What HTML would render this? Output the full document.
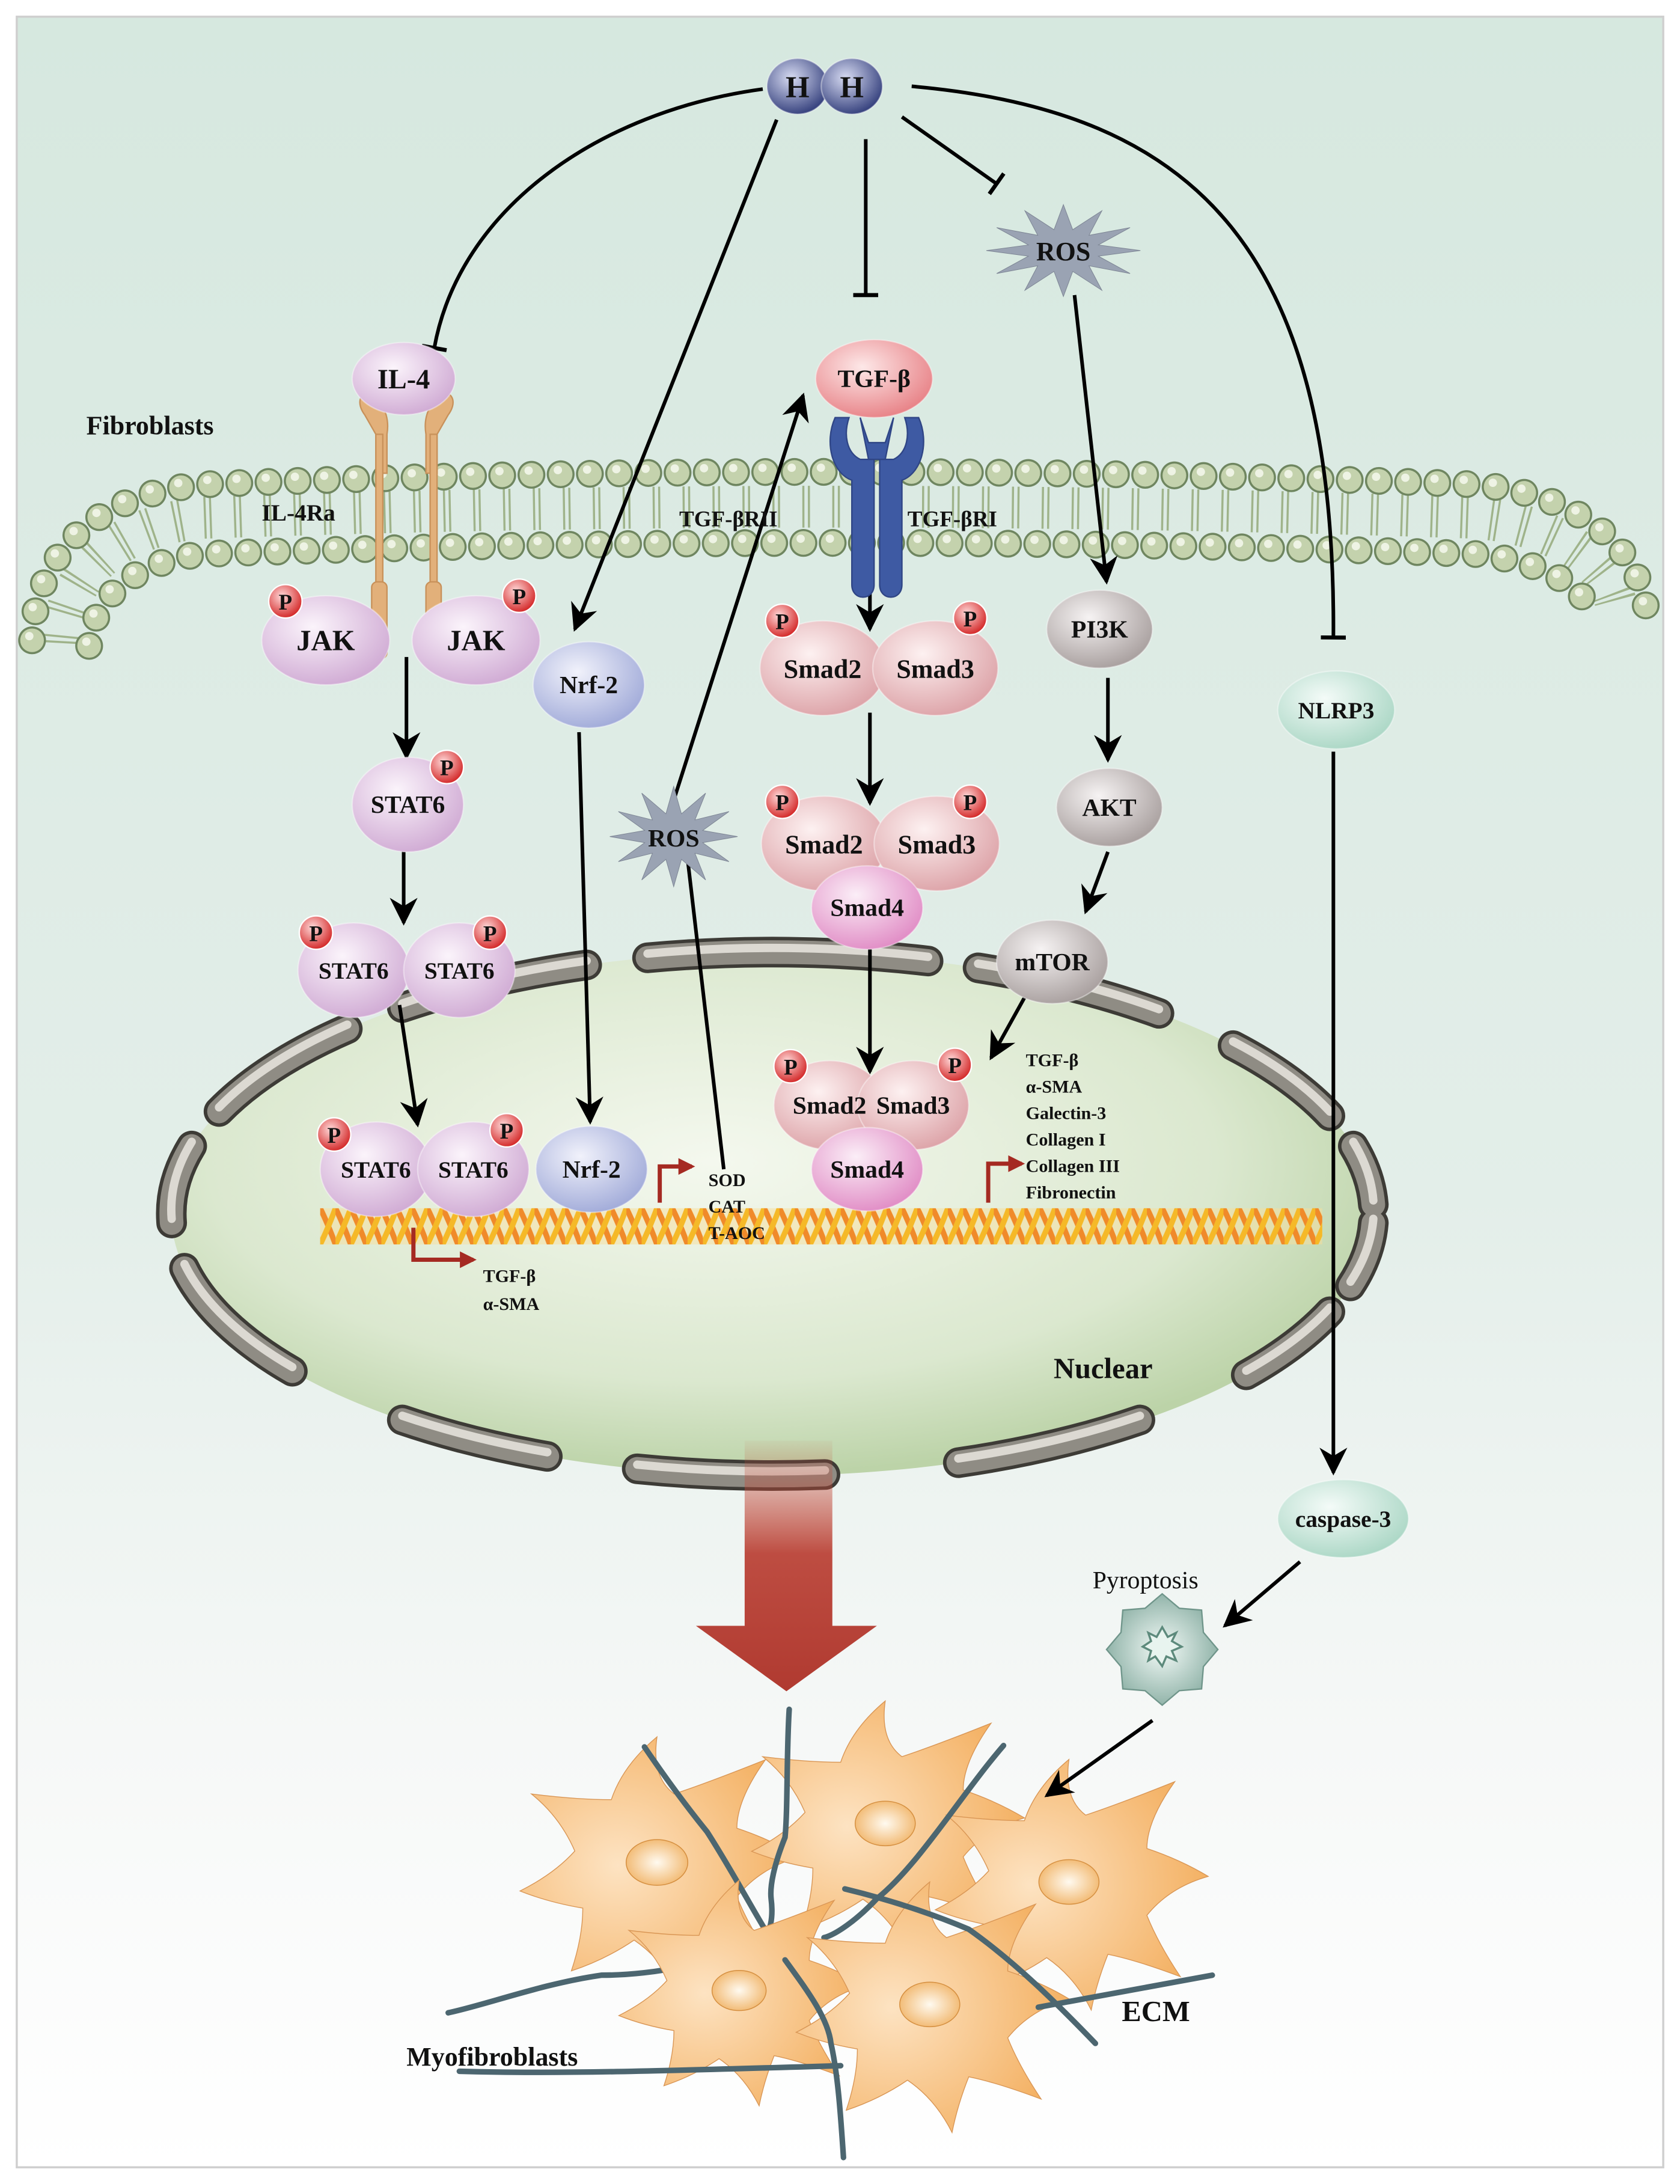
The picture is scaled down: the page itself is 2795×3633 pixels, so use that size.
<!DOCTYPE html>
<html><head><meta charset="utf-8">
<style>
html,body{margin:0;padding:0;background:#fff;}
svg{display:block;}
text{font-family:"Liberation Serif",serif;font-weight:bold;fill:#111;}
.c{text-anchor:middle;}
</style></head>
<body>
<svg width="2795" height="3633" viewBox="0 0 1207 1569" xmlns="http://www.w3.org/2000/svg" xmlns:xlink="http://www.w3.org/1999/xlink">
<defs>
<linearGradient id="bg" x1="0" y1="0" x2="0" y2="1">
<stop offset="0" stop-color="#d6e8df"/><stop offset="0.55" stop-color="#e3eee9"/><stop offset="0.8" stop-color="#f6f8f7"/><stop offset="1" stop-color="#fff"/>
</linearGradient>
<radialGradient id="nuc" cx="0.45" cy="0.4" r="0.6"><stop offset="0" stop-color="#f4f8ee"/><stop offset="0.7" stop-color="#dbe8cf"/><stop offset="1" stop-color="#bcd3a8"/></radialGradient>
<radialGradient id="pur" cx="0.4" cy="0.35" r="0.7"><stop offset="0" stop-color="#fbf4fb"/><stop offset="1" stop-color="#cfa9d3"/></radialGradient>
<radialGradient id="pink" cx="0.4" cy="0.35" r="0.7"><stop offset="0" stop-color="#fdf1f1"/><stop offset="1" stop-color="#dca1a6"/></radialGradient>
<radialGradient id="mag" cx="0.4" cy="0.35" r="0.7"><stop offset="0" stop-color="#fbeef7"/><stop offset="1" stop-color="#e08ac4"/></radialGradient>
<radialGradient id="tgf" cx="0.4" cy="0.35" r="0.7"><stop offset="0" stop-color="#fde8e8"/><stop offset="1" stop-color="#e77f84"/></radialGradient>
<radialGradient id="blue" cx="0.4" cy="0.35" r="0.7"><stop offset="0" stop-color="#f1f2fb"/><stop offset="1" stop-color="#9fa9d8"/></radialGradient>
<radialGradient id="gray" cx="0.4" cy="0.35" r="0.7"><stop offset="0" stop-color="#f6f3f3"/><stop offset="1" stop-color="#a69d9c"/></radialGradient>
<radialGradient id="mint" cx="0.4" cy="0.35" r="0.7"><stop offset="0" stop-color="#f4fbf8"/><stop offset="1" stop-color="#a9d6c4"/></radialGradient>
<radialGradient id="hh" cx="0.4" cy="0.35" r="0.7"><stop offset="0" stop-color="#d7dbf2"/><stop offset="1" stop-color="#2e3a78"/></radialGradient>
<radialGradient id="pp" cx="0.4" cy="0.35" r="0.7"><stop offset="0" stop-color="#ffd9d9"/><stop offset="1" stop-color="#d11e1e"/></radialGradient>
<radialGradient id="cell" cx="0.35" cy="0.5" r="0.7"><stop offset="0" stop-color="#fde3c2"/><stop offset="1" stop-color="#f3ad5c"/></radialGradient>
<radialGradient id="cn" cx="0.5" cy="0.5" r="0.6"><stop offset="0" stop-color="#fffaf0"/><stop offset="1" stop-color="#f0b060"/></radialGradient>
<radialGradient id="pyro" cx="0.5" cy="0.5" r="0.6"><stop offset="0" stop-color="#f3faf7"/><stop offset="1" stop-color="#7ea69a"/></radialGradient>
<linearGradient id="red" x1="0" y1="0" x2="0" y2="1"><stop offset="0" stop-color="#c8503c" stop-opacity="0.05"/><stop offset="0.45" stop-color="#b83a2e" stop-opacity="0.9"/><stop offset="1" stop-color="#b03a30"/></linearGradient>
<pattern id="dnap" x="230" y="868" width="11" height="26" patternUnits="userSpaceOnUse">
<path d="M0,0 C4,8 8,18 11,26" stroke="#f08a2a" stroke-width="4" fill="none"/>
<path d="M0,26 C4,18 8,8 11,0" stroke="#f5b928" stroke-width="4" fill="none"/>
</pattern>
<polygon id="star" points="0,-1 .164,-.454 .675,-.866 .449,-.332 1.169,-.5 .613,-.122 1.35,0 .613,.122 1.169,.5 .449,.332 .675,.866 .164,.454 0,1 -.164,.454 -.675,.866 -.449,.332 -1.169,.5 -.613,.122 -1.35,0 -.613,-.122 -1.169,-.5 -.449,-.332 -.675,-.866 -.164,-.454" fill="#9aa3b3" stroke="#7d8594" stroke-width="1" vector-effect="non-scaling-stroke"/>
<g id="cellg">
<path d="M-40,-55 Q-30,-85 0,-110 Q-5,-75 15,-60 Q45,-70 95,-90 Q70,-55 70,-30 Q100,-20 125,-5 Q90,5 70,30 Q80,55 100,85 Q60,70 35,65 Q25,90 20,115 Q5,85 -20,68 Q-45,85 -75,95 Q-65,65 -65,40 Q-95,35 -120,25 Q-90,10 -72,-10 Q-85,-40 -110,-60 Q-70,-55 -40,-55 Z" fill="url(#cell)" stroke="#d99655" stroke-width="1.4" vector-effect="non-scaling-stroke"/>
<ellipse cx="0" cy="0" rx="27" ry="20" fill="url(#cn)" stroke="#d58f40" stroke-width="1.5" vector-effect="non-scaling-stroke"/>
</g>
<marker id="a2" viewBox="0 0 10 10" refX="9" refY="5" markerWidth="22" markerHeight="20" orient="auto" markerUnits="userSpaceOnUse"><path d="M0,0 L10,5 L0,10 L3,5 z" fill="#000"/></marker>
<marker id="bar" viewBox="0 0 10 10" refX="5" refY="5" markerWidth="18" markerHeight="18" orient="auto" markerUnits="userSpaceOnUse"><path d="M5,0 L5,10" stroke="#000" stroke-width="1.6"/></marker>
<marker id="ra" viewBox="0 0 10 10" refX="8" refY="5" markerWidth="14" markerHeight="12" orient="auto" markerUnits="userSpaceOnUse"><path d="M0,0 L10,5 L0,10 z" fill="#a52a22"/></marker>
</defs>
<rect x="0" y="0" width="1207" height="1569" fill="#fff"/>
<rect x="12" y="12" width="1183" height="1545" fill="url(#bg)" stroke="#cfcfcf" stroke-width="1.5"/>

<!-- membrane -->
<g fill="none" stroke-linecap="round">
<path d="M44,462 C46,420 75,378 146,372 Q600,356 1060,372 C1130,378 1160,412 1162,440" stroke="#9fb38a" stroke-width="30" stroke-dasharray="1.5 2.5 1.5 16" stroke-linecap="butt"/>
<path d="M23,460 C25,405 60,356 146,348 Q600,330 1060,348 C1145,356 1180,402 1183,440" stroke="#6f8660" stroke-width="20" stroke-dasharray="0 21"/>
<path d="M23,460 C25,405 60,356 146,348 Q600,330 1060,348 C1145,356 1180,402 1183,440" stroke="#c4d2ad" stroke-width="17" stroke-dasharray="0 21"/>
<path d="M23,460 C25,405 60,356 146,348 Q600,330 1060,348 C1145,356 1180,402 1183,440" stroke="#eef3e4" stroke-width="6" stroke-dasharray="0 21" transform="translate(-2,-3)"/>
<path d="M64,464 C66,435 90,404 146,398 Q600,382 1060,398 C1115,404 1140,425 1142,440" stroke="#6f8660" stroke-width="20" stroke-dasharray="0 21"/>
<path d="M64,464 C66,435 90,404 146,398 Q600,382 1060,398 C1115,404 1140,425 1142,440" stroke="#c4d2ad" stroke-width="17" stroke-dasharray="0 21"/>
<path d="M64,464 C66,435 90,404 146,398 Q600,382 1060,398 C1115,404 1140,425 1142,440" stroke="#eef3e4" stroke-width="6" stroke-dasharray="0 21" transform="translate(-2,-3)"/>
</g>

<!-- nucleus -->
<ellipse cx="555" cy="872" rx="432" ry="188" fill="url(#nuc)"/>
<g fill="none" stroke-linecap="round">
<g stroke="#3d3b36" stroke-width="22">
<path d="M157.3,798.5 A432,188 0 0 1 249.5,739.1"/><path d="M289,723.9 A432,188 0 0 1 421.5,693.2"/><path d="M465.2,688.1 A432,188 0 0 1 666.8,690.4"/><path d="M702.7,695.3 A432,188 0 0 1 832.7,728"/><path d="M885.9,751.2 A432,188 0 0 1 955.5,801.6"/><path d="M972.3,823.3 A432,188 0 0 1 986.7,865.4"/><path d="M986.7,878.6 A432,188 0 0 1 970.3,923.8"/><path d="M955.5,942.4 A432,188 0 0 1 895.4,987.7"/><path d="M819,1020.1 A432,188 0 0 1 688.5,1050.8"/><path d="M592.7,1059.3 A432,188 0 0 1 457.8,1055.2"/><path d="M393.2,1046.3 A432,188 0 0 1 289,1020.1"/><path d="M210,985.1 A432,188 0 0 1 132.5,911.1"/><path d="M123.3,878.6 A432,188 0 0 1 137.7,823.3"/>
</g>
<g stroke="#8f8c84" stroke-width="17">
<path d="M157.3,798.5 A432,188 0 0 1 249.5,739.1"/><path d="M289,723.9 A432,188 0 0 1 421.5,693.2"/><path d="M465.2,688.1 A432,188 0 0 1 666.8,690.4"/><path d="M702.7,695.3 A432,188 0 0 1 832.7,728"/><path d="M885.9,751.2 A432,188 0 0 1 955.5,801.6"/><path d="M972.3,823.3 A432,188 0 0 1 986.7,865.4"/><path d="M986.7,878.6 A432,188 0 0 1 970.3,923.8"/><path d="M955.5,942.4 A432,188 0 0 1 895.4,987.7"/><path d="M819,1020.1 A432,188 0 0 1 688.5,1050.8"/><path d="M592.7,1059.3 A432,188 0 0 1 457.8,1055.2"/><path d="M393.2,1046.3 A432,188 0 0 1 289,1020.1"/><path d="M210,985.1 A432,188 0 0 1 132.5,911.1"/><path d="M123.3,878.6 A432,188 0 0 1 137.7,823.3"/>
</g>
<g stroke="#dcd9d2" stroke-width="6" transform="translate(0,-3)">
<path d="M157.3,798.5 A432,188 0 0 1 249.5,739.1"/><path d="M289,723.9 A432,188 0 0 1 421.5,693.2"/><path d="M465.2,688.1 A432,188 0 0 1 666.8,690.4"/><path d="M702.7,695.3 A432,188 0 0 1 832.7,728"/><path d="M885.9,751.2 A432,188 0 0 1 955.5,801.6"/><path d="M972.3,823.3 A432,188 0 0 1 986.7,865.4"/><path d="M986.7,878.6 A432,188 0 0 1 970.3,923.8"/><path d="M955.5,942.4 A432,188 0 0 1 895.4,987.7"/><path d="M819,1020.1 A432,188 0 0 1 688.5,1050.8"/><path d="M592.7,1059.3 A432,188 0 0 1 457.8,1055.2"/><path d="M393.2,1046.3 A432,188 0 0 1 289,1020.1"/><path d="M210,985.1 A432,188 0 0 1 132.5,911.1"/><path d="M123.3,878.6 A432,188 0 0 1 137.7,823.3"/>
</g>
</g>
<!-- DNA -->
<rect x="230" y="868" width="720" height="26" fill="#f8dd9a" opacity="0.5"/>
<rect x="230" y="868" width="720" height="26" fill="url(#dnap)"/>

<!-- big red arrow -->
<path d="M535,1035 H598 V1168 H630 L565,1215 L500,1168 H535 Z" fill="url(#red)"/>

<!-- cells + ECM -->
<g fill="none" stroke="#4c6670" stroke-width="4" stroke-linecap="round">
<use xlink:href="#cellg" transform="translate(472,1338) scale(0.82)"/>
<use xlink:href="#cellg" transform="translate(636,1310) scale(0.8)"/>
<use xlink:href="#cellg" transform="translate(768,1352) scale(0.8)"/>
<path d="M567,1228 C565,1260 566,1300 564,1320 C556,1340 553,1355 554,1364 C556,1380 552,1388 551,1390 C520,1410 470,1419 432,1419 C390,1425 350,1440 322,1446"/>
<path d="M463,1255 C480,1280 495,1300 508,1316 C530,1350 550,1390 564,1408"/>
<path d="M721,1254 C690,1290 660,1340 630,1364 C615,1380 600,1390 592,1392"/>
<use xlink:href="#cellg" transform="translate(531,1430) scale(0.72)"/>
<use xlink:href="#cellg" transform="translate(668,1440) scale(0.8)"/>
<path d="M564,1408 C580,1430 595,1450 597,1468 C602,1490 604,1520 606,1550"/>
<path d="M607,1357 C640,1365 670,1375 696,1386 C730,1410 760,1440 787,1468"/>
<path d="M871,1419 L746,1442"/>
<path d="M330,1488 C400,1490 470,1488 604,1484"/>
</g>

<!-- connectors -->
<g fill="none" stroke="#000" stroke-width="2.6">
<path d="M548,64 C430,80 330,150 312,250" marker-end="url(#bar)"/>
<path d="M558,86 L413,452" marker-end="url(#a2)"/>
<path d="M622,100 L622,212" marker-end="url(#bar)"/>
<path d="M648,84 L716,132" marker-end="url(#bar)"/>
<path d="M655,62 C860,80 960,180 958,458" marker-end="url(#bar)"/>
<path d="M772,212 L795,418" marker-end="url(#a2)"/>
<path d="M796,487 L796,546" marker-end="url(#a2)"/>
<path d="M796,612 L780,655" marker-end="url(#a2)"/>
<path d="M742,706 L712,760" marker-end="url(#a2)"/>
<path d="M958,540 L958,1058" marker-end="url(#a2)"/>
<path d="M934,1122 L880,1168" marker-end="url(#a2)"/>
<path d="M828,1236 L752,1290" marker-end="url(#a2)"/>
<path d="M292,472 L292,544" marker-end="url(#a2)"/>
<path d="M290,610 L290,663" marker-end="url(#a2)"/>
<path d="M287,722 L300,808" marker-end="url(#a2)"/>
<path d="M416,526 L424,806" marker-end="url(#a2)"/>
<path d="M484,575 L577,284" marker-end="url(#a2)"/>
<path d="M520,840 L492,600" marker-end="url(#bar)"/>
<path d="M625,414 L625,452" marker-end="url(#a2)"/>
<path d="M625,512 L625,577" marker-end="url(#a2)"/>
<path d="M625,680 L625,770" marker-end="url(#a2)"/>
</g>
<g fill="none" stroke="#a52a22" stroke-width="3">
<path d="M297,882 V905 H340" marker-end="url(#ra)"/>
<path d="M474,864 V838 H497" marker-end="url(#ra)"/>
<path d="M710,864 V836 H734" marker-end="url(#ra)"/>
</g>

<!-- IL-4 receptor -->
<g fill="#e2b07a" stroke="#c8915a" stroke-width="1">
<path d="M262,298 C256,290 258,282 266,282 C276,290 280,300 278,312 L278,340 L270,340 L270,312 Z"/>
<path d="M322,298 C328,290 326,282 318,282 C308,290 304,300 306,312 L306,340 L314,340 L314,312 Z"/>
<rect x="270" y="312" width="5" height="150"/><rect x="309" y="312" width="5" height="150"/>
<rect x="267" y="418" width="11" height="55" rx="4"/><rect x="306" y="418" width="11" height="55" rx="4"/>
</g>
<!-- TGF receptor -->
<g fill="#3e5aa3" stroke="#2f4585" stroke-width="1">
<path d="M600,300 C592,318 598,340 612,345 L612,420 C612,432 628,432 628,420 L628,330 L618,330 C608,325 606,312 610,300 Z"/>
<path d="M660,300 C668,318 662,340 648,345 L648,420 C648,432 632,432 632,420 L632,330 L642,330 C652,325 654,312 650,300 Z"/>
<path d="M618,300 L624,330 L636,330 L642,300 L636,318 L624,318 Z"/>
</g>

<!-- ROS stars -->
<use xlink:href="#star" transform="translate(484,601) scale(34,36)"/>
<use xlink:href="#star" transform="translate(764,180) scale(41,33)"/>
<text x="484" y="608" class="c" font-size="18">ROS</text>
<text x="764" y="187" class="c" font-size="19">ROS</text>
<!-- pyroptosis -->
<polygon points="875,1185 864.6,1197.3 863.3,1213.3 847.3,1214.6 835,1225 822.7,1214.6 806.7,1213.3 805.4,1197.3 795,1185 805.4,1172.7 806.7,1156.7 822.7,1155.4 835,1145 847.3,1155.4 863.3,1156.7 864.6,1172.7" fill="url(#pyro)" stroke="#6f958a" stroke-width="1"/>
<polygon points="849,1183 842,1186 845,1193 838,1190 835,1197 830,1190 825,1193 827,1186 821,1183 827,1179 825,1173 831,1176 835,1169 839,1176 845,1173 842,1179" fill="#e8f4ef" stroke="#5d8a7c" stroke-width="1.5"/>

<!-- nodes -->
<g stroke="#fff" stroke-opacity="0.4" stroke-width="1">
<ellipse cx="573" cy="62" rx="22" ry="20" fill="url(#hh)"/><ellipse cx="612" cy="62" rx="22" ry="20" fill="url(#hh)"/>
<ellipse cx="290" cy="272" rx="37" ry="26" fill="url(#pur)"/>
<ellipse cx="234" cy="460" rx="46" ry="32" fill="url(#pur)"/><ellipse cx="342" cy="460" rx="46" ry="32" fill="url(#pur)"/>
<ellipse cx="293" cy="578" rx="40" ry="34" fill="url(#pur)"/>
<ellipse cx="254" cy="697" rx="40" ry="34" fill="url(#pur)"/><ellipse cx="330" cy="697" rx="40" ry="34" fill="url(#pur)"/>
<ellipse cx="270" cy="840" rx="40" ry="34" fill="url(#pur)"/><ellipse cx="340" cy="840" rx="40" ry="34" fill="url(#pur)"/>
<ellipse cx="423" cy="492" rx="40" ry="31" fill="url(#blue)"/><ellipse cx="425" cy="840" rx="40" ry="31" fill="url(#blue)"/>
<ellipse cx="628" cy="272" rx="42" ry="28" fill="url(#tgf)"/>
<ellipse cx="591" cy="480" rx="45" ry="34" fill="url(#pink)"/><ellipse cx="672" cy="480" rx="45" ry="34" fill="url(#pink)"/>
<ellipse cx="592" cy="606" rx="45" ry="34" fill="url(#pink)"/><ellipse cx="673" cy="606" rx="45" ry="34" fill="url(#pink)"/><ellipse cx="623" cy="652" rx="40" ry="30" fill="url(#mag)"/>
<ellipse cx="596" cy="794" rx="40" ry="32" fill="url(#pink)"/><ellipse cx="656" cy="794" rx="40" ry="32" fill="url(#pink)"/><ellipse cx="623" cy="840" rx="40" ry="30" fill="url(#mag)"/>
<ellipse cx="790" cy="452" rx="38" ry="28" fill="url(#gray)"/><ellipse cx="797" cy="580" rx="38" ry="28" fill="url(#gray)"/><ellipse cx="756" cy="691" rx="40" ry="30" fill="url(#gray)"/>
<ellipse cx="960" cy="510" rx="42" ry="28" fill="url(#mint)"/><ellipse cx="965" cy="1091" rx="47" ry="28" fill="url(#mint)"/>
</g>
<g>
<text x="573" y="70" class="c" font-size="22">H</text><text x="612" y="70" class="c" font-size="22">H</text>
<text x="290" y="279" class="c" font-size="20">IL-4</text>
<text x="234" y="467" class="c" font-size="21">JAK</text><text x="342" y="467" class="c" font-size="21">JAK</text>
<text x="293" y="584" class="c" font-size="18">STAT6</text>
<text x="254" y="703" class="c" font-size="17">STAT6</text><text x="330" y="703" class="c" font-size="17">STAT6</text>
<text x="270" y="846" class="c" font-size="17">STAT6</text><text x="340" y="846" class="c" font-size="17">STAT6</text>
<text x="423" y="498" class="c" font-size="18">Nrf-2</text><text x="425" y="846" class="c" font-size="18">Nrf-2</text>
<text x="628" y="278" class="c" font-size="18">TGF-β</text>
<text x="591" y="487" class="c" font-size="19">Smad2</text><text x="672" y="487" class="c" font-size="19">Smad3</text>
<text x="592" y="613" class="c" font-size="19">Smad2</text><text x="673" y="613" class="c" font-size="19">Smad3</text><text x="623" y="658" class="c" font-size="18">Smad4</text>
<text x="596" y="800" class="c" font-size="18">Smad2</text><text x="656" y="800" class="c" font-size="18">Smad3</text><text x="623" y="846" class="c" font-size="18">Smad4</text>
<text x="790" y="458" class="c" font-size="18">PI3K</text><text x="797" y="586" class="c" font-size="18">AKT</text><text x="756" y="697" class="c" font-size="18">mTOR</text>
<text x="960" y="516" class="c" font-size="17">NLRP3</text><text x="965" y="1097" class="c" font-size="17">caspase-3</text>
</g>
<g fill="url(#pp)" stroke="#fff" stroke-width="1">
<circle cx="205" cy="432" r="12"/><circle cx="373" cy="428" r="12"/><circle cx="321" cy="551" r="12"/>
<circle cx="227" cy="670" r="12"/><circle cx="352" cy="670" r="12"/><circle cx="240" cy="815" r="12"/><circle cx="364" cy="812" r="12"/>
<circle cx="562" cy="446" r="12"/><circle cx="697" cy="444" r="12"/><circle cx="562" cy="576" r="12"/><circle cx="697" cy="576" r="12"/>
<circle cx="568" cy="766" r="12"/><circle cx="686" cy="765" r="12"/>
</g>
<g font-size="16">
<text x="205" y="438" class="c">P</text><text x="373" y="434" class="c">P</text><text x="321" y="557" class="c">P</text>
<text x="227" y="676" class="c">P</text><text x="352" y="676" class="c">P</text><text x="240" y="821" class="c">P</text><text x="364" y="818" class="c">P</text>
<text x="562" y="452" class="c">P</text><text x="697" y="450" class="c">P</text><text x="562" y="582" class="c">P</text><text x="697" y="582" class="c">P</text>
<text x="568" y="772" class="c">P</text><text x="686" y="771" class="c">P</text>
</g>

<text x="62" y="312" font-size="19">Fibroblasts</text>
<text x="188" y="374" font-size="17">IL-4Ra</text>
<text x="488" y="378" font-size="16">TGF-βRII</text>
<text x="652" y="378" font-size="16">TGF-βRI</text>
<text x="757" y="990" font-size="21">Nuclear</text>
<text x="347" y="921" font-size="13">TGF-β</text>
<text x="347" y="941" font-size="13">α-SMA</text>
<text x="509" y="852" font-size="13">SOD</text>
<text x="509" y="871" font-size="13">CAT</text>
<text x="509" y="890" font-size="13">T-AOC</text>
<g font-size="13">
<text x="737" y="766">TGF-β</text><text x="737" y="785">α-SMA</text><text x="737" y="804">Galectin-3</text><text x="737" y="823">Collagen I</text><text x="737" y="842">Collagen III</text><text x="737" y="861">Fibronectin</text>
</g>
<text x="785" y="1141" font-size="18" style="font-weight:normal">Pyroptosis</text>
<text x="806" y="1452" font-size="21">ECM</text>
<text x="292" y="1484" font-size="19">Myofibroblasts</text>
</svg>
</body></html>
